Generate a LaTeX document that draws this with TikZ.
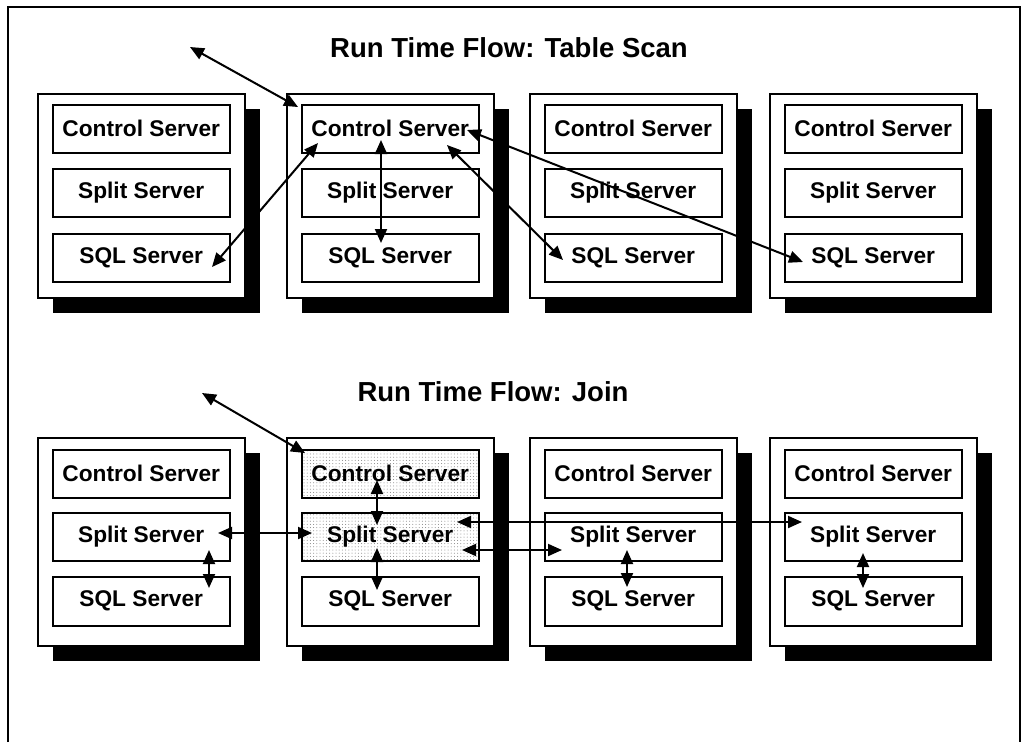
\documentclass[tikz,border=0pt]{standalone}
\usepackage{fontspec}
\setmainfont{Liberation Sans}
\usetikzlibrary{arrows.meta,shadows,patterns.meta}
\begin{document}
\begin{tikzpicture}[x=1pt,y=-1pt,
  outerbox/.style={draw, line width=1.5pt, fill=white, minimum width=207pt, anchor=north west, inner sep=0pt,
    drop shadow={shadow xshift=15pt, shadow yshift=-15pt, fill=black, opacity=1}},
  srvbox/.style={draw, line width=1.5pt, fill=white, minimum width=177pt, minimum height=48pt, anchor=north west,
    inner sep=0pt, font=\fontsize{22.7}{26}\selectfont\bfseries},
  shaded/.style={fill=none, pattern={Dots[radius=0.5pt,distance=3.2pt]}, pattern color=black!50},
  link/.style={line width=2pt, {Triangle[length=14pt,width=12pt]}-{Triangle[length=14pt,width=12pt]}},
  title/.style={font=\fontsize{27.5}{32}\selectfont\bfseries}]
\useasboundingbox (0,0) rectangle (1025,742);
% frame
\coordinate (fbl) at (8,742);
\coordinate (ftl) at (8,7);
\coordinate (ftr) at (1020,7);
\coordinate (fbr) at (1020,742);
\draw[line width=1.5pt] (fbl) -- (ftl) -- (ftr) -- (fbr);
% titles
\node[title] (ttl1) at (509,48) {Run Time Flow: Table Scan};
\node[title] (ttl2) at (493,392) {Run Time Flow: Join};
% top row
\foreach \i/\x in {1/37,2/286,3/529,4/769} {
  \node[outerbox, minimum height=204pt] (T\i) at (\x,93) {};
  \node[srvbox] (T\i-c) at (\x+15,104) {Control Server};
  \node[srvbox] (T\i-p) at (\x+15,168) {Split Server};
  \node[srvbox] (T\i-q) at (\x+15,233) {SQL Server};
}
% bottom row
\foreach \i/\x in {1/37,3/529,4/769} {
  \node[outerbox, minimum height=208pt] (B\i) at (\x,437) {};
  \node[srvbox] (B\i-c) at (\x+15,449) {Control Server};
  \node[srvbox] (B\i-p) at (\x+15,512) {Split Server};
  \node[srvbox, minimum height=49pt] (B\i-q) at (\x+15,576) {SQL Server};
}
\node[outerbox, minimum height=208pt] (B2) at (286,437) {};
\node[srvbox, shaded] (B2-c) at (301,449) {Control Server};
\node[srvbox, shaded] (B2-p) at (301,512) {Split Server};
\node[srvbox, minimum height=49pt] (B2-q) at (301,576) {SQL Server};
% connector end points (top)
\coordinate (a1s) at (190,47);  \coordinate (a1e) at (298,107);
\coordinate (a2s) at (318,143); \coordinate (a2e) at (212,267);
\coordinate (a3s) at (381,140); \coordinate (a3e) at (381,243);
\coordinate (a4s) at (447,145); \coordinate (a4e) at (563,260);
\coordinate (a5s) at (467,130); \coordinate (a5e) at (803,262);
\draw[link] (a1s) -- (a1e);
\draw[link] (a2s) -- (a2e);
\draw[link] (a3s) -- (a3e);
\draw[link] (a4s) -- (a4e);
\draw[link] (a5s) -- (a5e);
% connector end points (bottom)
\coordinate (b1s) at (202,393); \coordinate (b1e) at (305,453);
\coordinate (b2s) at (377,480); \coordinate (b2e) at (377,525);
\coordinate (b3s) at (377,548); \coordinate (b3e) at (377,590);
\coordinate (b4s) at (218,533); \coordinate (b4e) at (312,533);
\coordinate (b5s) at (209,550); \coordinate (b5e) at (209,588);
\coordinate (b6s) at (457,522); \coordinate (b6e) at (802,522);
\coordinate (b7s) at (462,550); \coordinate (b7e) at (562,550);
\coordinate (b8s) at (627,550); \coordinate (b8e) at (627,587);
\coordinate (b9s) at (863,553); \coordinate (b9e) at (863,588);
\foreach \k in {1,...,9} { \draw[link] (b\k s) -- (b\k e); }
\end{tikzpicture}
\end{document}
